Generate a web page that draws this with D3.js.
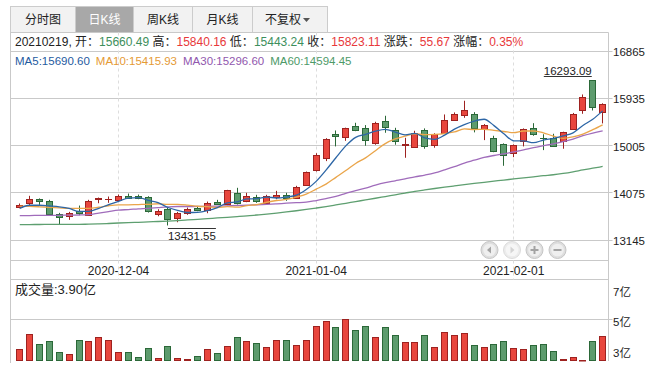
<!DOCTYPE html>
<html><head><meta charset="utf-8">
<script src="https://cdn.jsdelivr.net/npm/d3@7"></script>
<style>
html,body{margin:0;padding:0;background:#fff;}
svg{display:block;font-family:"Liberation Sans",Arial,"Noto Sans CJK SC",sans-serif;}
</style></head><body>
<svg id="c" width="666" height="373"></svg>
<script>
const dates = ["2020-11-20","2020-11-23","2020-11-24","2020-11-25","2020-11-26","2020-11-27","2020-11-30","2020-12-01","2020-12-02","2020-12-03",
"2020-12-04","2020-12-07","2020-12-08","2020-12-09","2020-12-10","2020-12-11","2020-12-14","2020-12-15","2020-12-16","2020-12-17",
"2020-12-18","2020-12-21","2020-12-22","2020-12-23","2020-12-24","2020-12-25","2020-12-28","2020-12-29","2020-12-30","2020-12-31",
"2021-01-04","2021-01-05","2021-01-06","2021-01-07","2021-01-08","2021-01-11","2021-01-12","2021-01-13","2021-01-14","2021-01-15",
"2021-01-18","2021-01-19","2021-01-20","2021-01-21","2021-01-22","2021-01-25","2021-01-26","2021-01-27","2021-01-28","2021-01-29",
"2021-02-01","2021-02-02","2021-02-03","2021-02-04","2021-02-05","2021-02-08","2021-02-09","2021-02-10","2021-02-18","2021-02-19"];
const open = [13791,13878,13957,13917,13653,13621,13720,13647,13949,13950,
13929,14022,14008,13996,13653,13759,13588,13680,13779,13732,
13903,13850,14075,13917,13996,13878,14002,14036,13976,14233,
14529,14758,15231,15172,15397,15357,15061,15496,15306,15023,
14984,15306,15023,15259,15515,15614,15633,15338,15160,15042,
14856,15095,15349,15159,15160,15089,15338,15712,16293.09,15660.49];
const high = [13864,14016,13965,13937,13680,13700,13824,13937,13982,14002,
14041,14061,14041,14008,13751,13785,13700,13785,13805,13903,
13937,14134,14174,14075,14036,14036,14114,14075,14213,14495,
14856,15152,15304,15360,15456,15410,15476,15594,15357,15160,
15298,15345,15250,15620,15660,15890,15665,15430,15200,15050,
15030,15345,15448,15230,15239,15280,15650,16014,16293.09,15840.16];
const low = [13771,13824,13838,13641,13450,13542,13633,13633,13870,13878,
13903,13968,13949,13686,13613,13431.55,13495,13641,13712,13673,
13838,13830,13844,13890,13878,13850,13949,13917,13957,14219,
14495,14700,14990,15100,15290,15003,15023,15259,15023,14766,
14964,14944,14964,15240,15500,15554,15267,15114,14876,14608,
14778,14990,15200,14917,14990,14944,15320,15633,15698,15443.24];
const close = [13844,13963,13917,13661,13607,13686,13673,13917,13968,13960,
14022,13976,13968,13712,13720,13554,13686,13765,13732,13884,
13858,14134,13878,14016,13917,14016,14036,13976,14193,14476,
14825,15140,15200,15357,15318,15120,15456,15377,15101,15042,
15259,15003,15239,15515,15633,15712,15349,15416,14892,14825,
15023,15338,15239,15148,15003,15265,15633,15961,15767.44,15823.11];
const volume = [3.04,4.01,3.35,3.57,2.83,2.69,3.62,3.57,3.81,3.62,
2.83,2.83,2.50,3.09,2.43,3.22,2.43,2.36,2.56,3.02,
2.76,3.22,3.81,3.55,3.42,3.16,3.62,3.62,3.29,3.62,
4.54,4.87,4.47,5.00,4.28,4.54,3.81,4.47,3.95,3.48,
3.48,3.95,3.16,4.14,3.95,4.08,3.29,3.16,3.35,3.55,
3.09,3.02,3.29,3.35,2.89,2.38,2.52,2.30,3.55,3.90];
const ma5 = [13770,13830,13830,13815,13798,13767,13709,13709,13770,13841,
13908,13969,13979,13928,13880,13786,13728,13687,13691,13724,
13785,13875,13897,13954,13961,13992,13973,13992,14028,14139,
14301,14522,14767,15000,15168,15227,15290,15326,15274,15219,
15247,15156,15129,15212,15330,15420,15490,15525,15400,15239,
15101,15099,15063,15115,15150,15199,15258,15402,15526,15690.60];
const ma10 = [13811,13808,13800,13790,13778,13768,13770,13770,13792,13820,
13837,13839,13844,13849,13860,13847,13848,13833,13810,13802,
13786,13801,13792,13823,13842,13889,13924,13945,13991,14050,
14147,14247,14380,14514,14654,14764,14906,15046,15137,15194,
15237,15223,15227,15243,15275,15334,15323,15327,15306,15284,
15261,15294,15294,15258,15195,15150,15178,15233,15320,15415.93];
const ma30 = [13627,13627,13630,13630,13632,13635,13638,13645,13676,13706,
13734,13745,13760,13770,13785,13799,13805,13805,13806,13809,
13813,13819,13825,13830,13840,13848,13858,13870,13880,13890,
13923,13962,14005,14062,14119,14167,14226,14275,14312,14349,
14390,14424,14466,14526,14590,14662,14718,14773,14811,14843,
14881,14922,14967,15005,15041,15083,15136,15202,15254,15296.60];
const ma60 = [13450,13450,13451,13452,13453,13454,13455,13457,13462,13470,
13480,13487,13494,13502,13510,13518,13528,13540,13553,13566,
13580,13593,13606,13620,13638,13656,13676,13698,13722,13747,
13775,13804,13836,13869,13902,13935,13968,14002,14036,14070,
14104,14133,14160,14186,14211,14236,14260,14283,14305,14327,
14348,14370,14391,14413,14431,14457,14489,14526,14560,14594.45];
const priceTicks = [16865,15935,15005,14075,13145];
const volTicks = [7,5,3];
const dateTicks = ["2020-12-04","2021-01-04","2021-02-01"];
const tabs = ["分时图","日K线","周K线","月K线","不复权"];

const RED="#e8463d", RED_D="#9e2220", GRN="#5d9b6d", GRN_D="#2b6838", GRID="#c9c9c9";
const svg=d3.select("#c");
const L=10.5,R=608.5,T=32.5,MB=260.5,AB=279.5,VB=360;
const x=d3.scaleBand().domain(dates).range([14.8,607.6]);
const cx=i=>x(dates[i])+x.bandwidth()/2;
const y=d3.scaleLinear().domain([13145,16865]).range([240,51.3]);
const yv=d3.scaleLinear().domain([3,7]).range([349.7,288.9]);
const crisp=v=>Math.floor(v)+0.5;

// tabs
const tabEdges=[10.5,75.5,133.5,192.5,252.5,327.5];
const tg=svg.append("g");
tabs.forEach((t,i)=>{
  tg.append("rect").attr("x",tabEdges[i]).attr("y",6.5).attr("width",tabEdges[i+1]-tabEdges[i]).attr("height",26)
    .attr("fill",i===1?"#a8a8a8":"#f2f2f2").attr("stroke","#cccccc");
  tg.append("text").attr("x",(tabEdges[i]+tabEdges[i+1])/2-(i===4?7:0)).attr("y",20).attr("dominant-baseline","central")
    .attr("text-anchor","middle").attr("font-size",12).attr("fill",i===1?"#fff":"#222").text(t);
});
tg.append("path").attr("d","M303,18 L310,18 L306.5,22 Z").attr("fill","#555");

// frame
const fg=svg.append("g").attr("fill","none").attr("stroke",GRID);
fg.append("line").attr("x1",L).attr("x2",R).attr("y1",T).attr("y2",T);
fg.append("line").attr("x1",L).attr("x2",L).attr("y1",T).attr("y2",363);
fg.append("line").attr("x1",R).attr("x2",R).attr("y1",T).attr("y2",361);
fg.append("line").attr("x1",L).attr("x2",R).attr("y1",MB).attr("y2",MB);
fg.append("line").attr("x1",L).attr("x2",R).attr("y1",AB).attr("y2",AB);
priceTicks.forEach(t=>fg.append("line").attr("x1",L).attr("x2",R+4).attr("y1",crisp(y(t))).attr("y2",crisp(y(t))));
fg.append("line").attr("x1",L).attr("x2",R+4).attr("y1",crisp(yv(5))).attr("y2",crisp(yv(5)));
dateTicks.forEach(d=>{const xi=crisp(cx(dates.indexOf(d)));
  fg.append("line").attr("x1",xi).attr("x2",xi).attr("y1",T).attr("y2",AB).attr("stroke","#dddddd").attr("stroke-dasharray","3,3");});

// axis labels
const ag=svg.append("g").attr("font-size",11.5).attr("fill","#222");
priceTicks.forEach(t=>ag.append("text").attr("x",613).attr("y",y(t)+1).attr("dominant-baseline","central").text(t));
volTicks.forEach(v=>ag.append("text").attr("x",613).attr("y",yv(v)+3).attr("dominant-baseline","central").text(v+"亿"));
dateTicks.forEach(d=>ag.append("text").attr("x",cx(dates.indexOf(d))).attr("y",271).attr("text-anchor","middle")
  .attr("dominant-baseline","central").attr("font-size",12).text(d));

// candles
const cg=svg.append("g");
dates.forEach((d,i)=>{
  const up=close[i]>=open[i];
  const fill=up?RED:GRN, st=up?RED_D:GRN_D;
  const left=Math.round(cx(i)-3.5)+0.5, wx=left+3;
  const yt=Math.round(y(Math.max(open[i],close[i]))), yb=Math.round(y(Math.min(open[i],close[i])));
  cg.append("line").attr("x1",wx).attr("x2",wx).attr("y1",y(high[i])).attr("y2",y(low[i])).attr("stroke",st);
  if(yb-yt>=2){
    cg.append("rect").attr("x",left).attr("y",yt+0.5).attr("width",6).attr("height",yb-yt).attr("fill",fill).attr("stroke",st);
  } else {
    cg.append("rect").attr("x",left-0.5).attr("y",yt).attr("width",7).attr("height",Math.max(1,yb-yt+1)).attr("fill",st);
  }
  const vt=Math.round(yv(volume[i]));
  cg.append("rect").attr("x",left).attr("y",vt+0.5).attr("width",6).attr("height",Math.max(0.5,VB-vt)).attr("fill",fill).attr("stroke",st);
});

// MA lines
const line=d3.line().x((v,i)=>cx(i)).y(v=>y(v)).curve(d3.curveMonotoneX);
[[ma60,"#5e9f70"],[ma30,"#a06cbb"],[ma10,"#eaa54a"],[ma5,"#2d66a6"]].forEach(([arr,c])=>
  svg.append("path").attr("d",line(arr)).attr("fill","none").attr("stroke",c).attr("stroke-width",1.3));

// high / low annotations
const hi=d3.maxIndex(high), lo=d3.minIndex(low);
const ht=svg.append("text").attr("x",cx(hi)-1).attr("y",y(high[hi])-9).attr("text-anchor","end").attr("dominant-baseline","central")
  .attr("font-size",11.5).attr("fill","#222").text(high[hi].toFixed(2));
const hw=ht.node().getComputedTextLength();
svg.append("line").attr("x1",cx(hi)-1-hw).attr("x2",cx(hi)-1).attr("y1",crisp(y(high[hi])-4)).attr("y2",crisp(y(high[hi])-4)).attr("stroke","#333");
const lt=svg.append("text").attr("x",cx(lo)).attr("y",y(low[lo])+11).attr("dominant-baseline","central")
  .attr("font-size",11.5).attr("fill","#222").text(low[lo].toFixed(2));
const lw=lt.node().getComputedTextLength();
svg.append("line").attr("x1",cx(lo)).attr("x2",cx(lo)+lw).attr("y1",crisp(y(low[lo])+3.5)).attr("y2",crisp(y(low[lo])+3.5)).attr("stroke","#333");

// info row
const n=dates.length-1, prev=close[n-1];
const chg=close[n]-prev, pct=chg/prev*100;
const col=v=>v>=prev?"#e8383a":"#3d8f5c";
const info=svg.append("text").attr("x",15).attr("y",42).attr("dominant-baseline","central").attr("font-size",12).attr("fill","#222");
const seg=(t,c)=>info.append("tspan").attr("fill",c||"#222").text(t);
seg(dates[n].replace(/-/g,"")+", 开：");seg(open[n].toFixed(2),col(open[n]));
seg(" 高：");seg(high[n].toFixed(2),col(high[n]));
seg(" 低：");seg(low[n].toFixed(2),col(low[n]));
seg(" 收：");seg(close[n].toFixed(2),col(close[n]));
seg(" 涨跌：");seg(chg.toFixed(2),chg>=0?"#e8383a":"#3d8f5c");
seg(" 涨幅：");seg(pct.toFixed(2)+"%",chg>=0?"#e8383a":"#3d8f5c");

// MA legend
const leg=svg.append("text").attr("x",15).attr("y",61).attr("dominant-baseline","central").attr("font-size",11.5);
[["MA5",ma5,"#1f5b9f"],["MA10",ma10,"#e59a35"],["MA30",ma30,"#9157ae"],["MA60",ma60,"#4d9a68"]].forEach(([k,a,c],i)=>
  leg.append("tspan").attr("dx",i?6:0).attr("fill",c).text(k+":"+a[n].toFixed(2)));

// volume label
svg.append("text").attr("x",15).attr("y",289.5).attr("dominant-baseline","central").attr("font-size",13).attr("fill","#222")
  .text("成交量:"+volume[n].toFixed(2)+"亿");

// nav buttons
const bx=[489.5,512,534.5,557.5];
bx.forEach((b,i)=>{
  const dis=i===1;
  const g=svg.append("g");
  g.append("circle").attr("cx",b).attr("cy",250).attr("r",8.5).attr("fill",dis?"#ececec":"#dedede").attr("stroke",dis?"#dcdcdc":"#c6c6c6");
  g.append("circle").attr("cx",b).attr("cy",250).attr("r",6.3).attr("fill",dis?"#f6f6f6":"#efefef");
  const ic=dis?"#d4d4d4":"#a3a3a3";
  if(i===0) g.append("path").attr("d",`M${b-2.5},250 L${b+1.5},246.5 L${b+1.5},253.5 Z`).attr("fill",ic);
  if(i===1) g.append("path").attr("d",`M${b+2.5},250 L${b-1.5},246.5 L${b-1.5},253.5 Z`).attr("fill",ic);
  if(i>=2) g.append("rect").attr("x",b-4).attr("y",249).attr("width",8).attr("height",2).attr("fill",ic);
  if(i===2) g.append("rect").attr("x",b-1).attr("y",246).attr("width",2).attr("height",8).attr("fill",ic);
});
</script></body></html>
